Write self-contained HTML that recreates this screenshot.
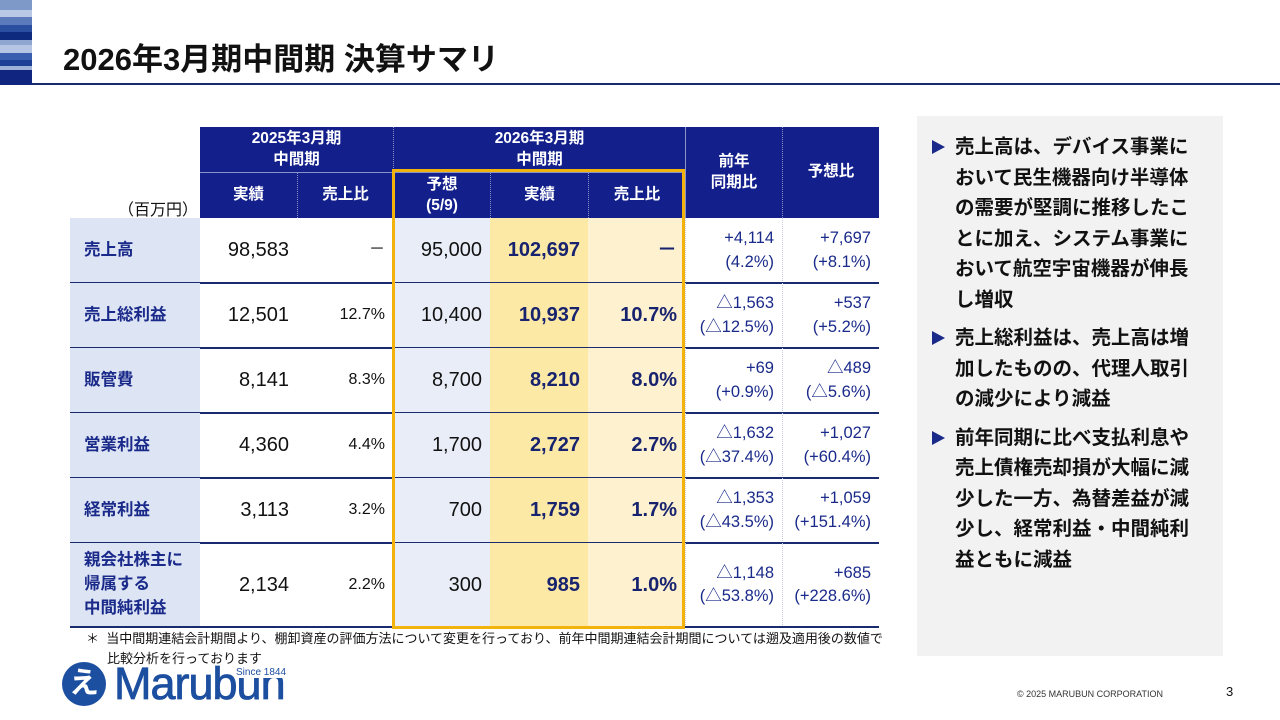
<!DOCTYPE html>
<html lang="ja"><head><meta charset="utf-8">
<style>
*{margin:0;padding:0;box-sizing:border-box}
body{width:1280px;height:720px;background:#fff;position:relative;overflow:hidden;font-family:"Liberation Sans","Noto Sans CJK JP",sans-serif;color:#111}
.a{position:absolute}
.c{position:absolute;display:flex;align-items:center;justify-content:flex-end;padding-right:8px;font-size:20px;line-height:1.15;text-align:right}
.h{position:absolute;display:flex;align-items:center;justify-content:center;text-align:center;color:#fff;font-weight:bold;font-size:15.5px;line-height:1.3;background:#13208c}
.lab{justify-content:flex-start;padding-left:14px;color:#1a2a8a;font-weight:bold;font-size:16.5px;text-align:left;background:#dde4f3;line-height:1.45}
.b{color:#17236e;font-weight:bold;font-size:20px}
.s{color:#1a2a8a;flex-direction:column;align-items:flex-end;line-height:1.4;font-size:16.5px}
.p{position:relative;padding-left:23px;font-weight:bold;font-size:19.5px;line-height:30.5px;margin-bottom:8px;width:270px}
.p:before{content:"";position:absolute;left:0;top:8px;border-left:13px solid #1a2a8a;border-top:7.5px solid transparent;border-bottom:7.5px solid transparent}
</style></head><body>
<div class="a" style="left:0;top:0;width:32px;height:85px;background:linear-gradient(#7e99c8 0 10px,#b9c8e4 10px 17px,#5a7abb 17px 25px,#2b4fa0 25px 32px,#0d2a7e 32px 40px,#8ea6d0 40px 45px,#b5c5e3 45px 53px,#3a5fae 53px 60px,#1d3f95 60px 66px,#9fb3d9 66px 70px,#0f2580 70px 85px)"></div>
<div class="a" style="left:32px;top:83px;width:1248px;height:2px;background:#1a2a6e"></div>
<div class="a" style="left:63px;top:38px;font-size:31px;font-weight:bold;line-height:44px">2026年3月期中間期 決算サマリ</div>

<div id="tbl"></div>
<div class="a" style="left:118px;top:196px;font-size:16px">（百万円）</div>

<div class="a" style="left:392px;top:169px;width:293px;height:460px;border:3px solid #f2b40c;z-index:5"></div>

<div class="a" style="left:86px;top:629px;font-size:13px;line-height:20px;width:840px">＊&nbsp; 当中間期連結会計期間より、棚卸資産の評価方法について変更を行っており、前年中間期連結会計期間については遡及適用後の数値で<br><span style="padding-left:21px">比較分析を行っております</span></div>

<div class="a" style="left:917px;top:116px;width:306px;height:540px;background:#f2f2f2;padding:16px 0 0 15px">
<div class="p" style="width:268px">売上高は、デバイス事業において民生機器向け半導体の需要が堅調に推移したことに加え、システム事業において航空宇宙機器が伸長し増収</div>
<div class="p" style="width:268px">売上総利益は、売上高は増加したものの、代理人取引の減少により減益</div>
<div class="p" style="width:268px">前年同期に比べ支払利息や売上債権売却損が大幅に減少した一方、為替差益が減少し、経常利益・中間純利益ともに減益</div>
</div>

<div class="a" style="left:62px;top:662px;width:44px;height:44px;border-radius:50%;background:#1d4fa0;color:#fff;font-size:30px;font-weight:bold;text-align:center;line-height:44px">え</div>
<div class="a" style="left:114px;top:661px;font-size:45px;color:#1d4fa0;line-height:46px;letter-spacing:-1px;-webkit-text-stroke:0.8px #1d4fa0">Marubun</div>
<div class="a" style="left:234px;top:667px;font-size:10px;color:#1d4fa0;background:#fff;padding:0 2px">Since 1844</div>
<div class="a" style="left:1017px;top:689px;font-size:9px;color:#333">© 2025 MARUBUN CORPORATION</div>
<div class="a" style="left:1226px;top:684px;font-size:13px">3</div>

<script>
const rowLabels=["売上高","売上総利益","販管費","営業利益","経常利益","親会社株主に<br>帰属する<br>中間純利益"];
const prevActual=["98,583","12,501","8,141","4,360","3,113","2,134"];
const prevRatio=["－","12.7%","8.3%","4.4%","3.2%","2.2%"];
const forecast=["95,000","10,400","8,700","1,700","700","300"];
const actual=["102,697","10,937","8,210","2,727","1,759","985"];
const ratio=["－","10.7%","8.0%","2.7%","1.7%","1.0%"];
const yoy=[["+4,114","(4.2%)"],["△1,563","(△12.5%)"],["+69","(+0.9%)"],["△1,632","(△37.4%)"],["△1,353","(△43.5%)"],["△1,148","(△53.8%)"]];
const vsFc=[["+7,697","(+8.1%)"],["+537","(+5.2%)"],["△489","(△5.6%)"],["+1,027","(+60.4%)"],["+1,059","(+151.4%)"],["+685","(+228.6%)"]];

const T=document.getElementById('tbl');
const X=[70,200,297,393,490,588,685,782,879];
const rowTop=[218,283,348,413,478,543], rowH=[65,65,65,65,65,84];
function mk(cls,x,y,w,h,html,bg){const d=document.createElement('div');d.className=cls;d.style.cssText=`left:${x}px;top:${y}px;width:${w}px;height:${h}px;`+(bg?`background:${bg};`:'');d.innerHTML=html;T.appendChild(d);return d;}
let e;
e=mk('h',200,127,193,45,'2025年3月期<br>中間期');


e=mk('h',393,127,292,45,'2026年3月期<br>中間期');e.style.borderLeft='1px dotted #8a93c8';


e=mk('h',685,127,97,91,'前年<br>同期比');e.style.borderLeft='1px solid #8a93c8';


e=mk('h',782,127,97,91,'予想比');e.style.borderLeft='1px dotted #8a93c8';


const sub=['実績','売上比','予想<br>(5/9)','実績','売上比'];
sub.forEach((t,i)=>{const el=mk('h',X[i+1],172,X[i+2]-X[i+1],46,t);el.style.borderTop='1px solid #8a93c8';if(i>0)el.style.borderLeft='1px dotted #8a93c8';

});
rowLabels.forEach((lab,r)=>{
 const y=rowTop[r],h=rowH[r];
 let el=mk('c lab',70,y,130,h,lab);
 
 
 const vals=[[prevActual[r],''],[prevRatio[r],'font-size:16px'],[forecast[r],''],[actual[r],'b'],[ratio[r],'b']];
 const bgs=['','','#e9edf7','#fde9a6','#fdf1cf'];
 vals.forEach((v,i)=>{const c=mk('c'+(v[1]==='b'?' b':''),X[i+1],y,X[i+2]-X[i+1],h,v[0],bgs[i]);if(v[1]&&v[1]!=='b')c.style.cssText+=v[1];
  
  });
 el=mk('c s',685,y,97,h,yoy[r][0]+'<br>'+yoy[r][1]);el.style.justifyContent='center';el.style.borderLeft='1px dotted #c8cce0';
 
 
 el=mk('c s',782,y,97,h,vsFc[r][0]+'<br>'+vsFc[r][1]);el.style.justifyContent='center';el.style.borderLeft='1px dotted #c8cce0';
 
 
 const ln=mk('a',70,y+h-1,809,2,'','#1a2a6e');
 
 
});
</script>
</body></html>
